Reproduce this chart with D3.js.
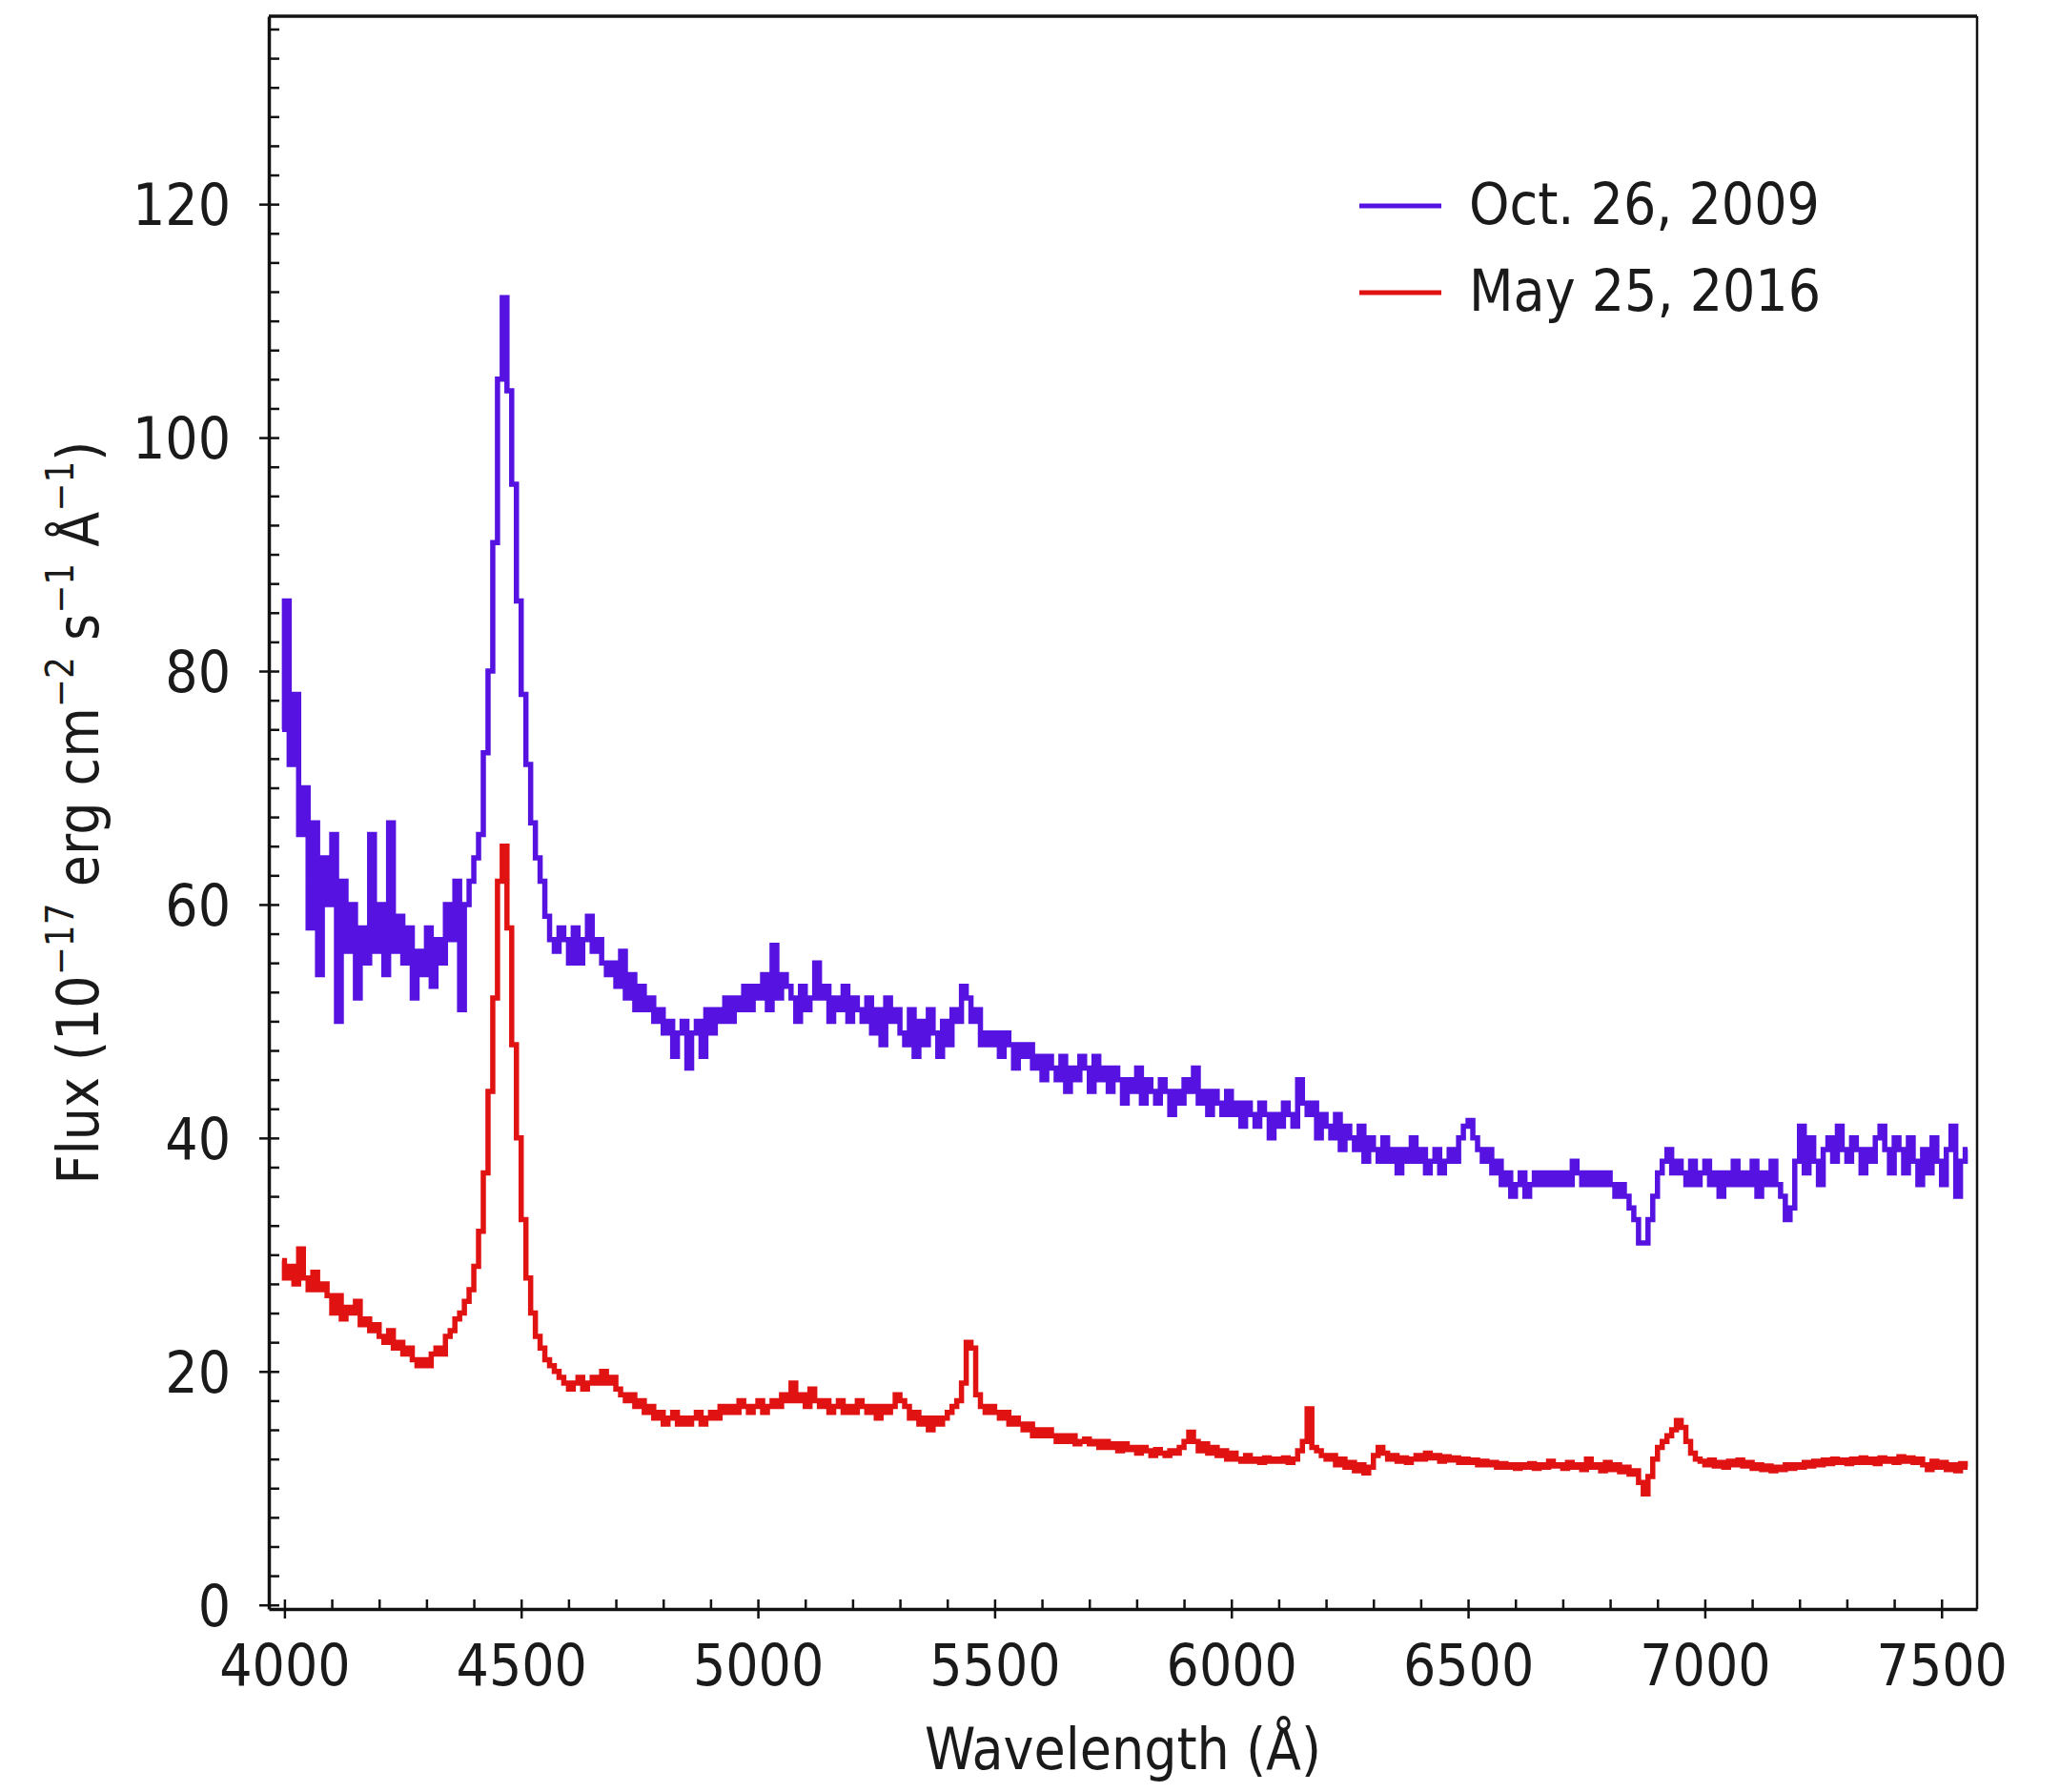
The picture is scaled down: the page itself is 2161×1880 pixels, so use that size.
<!DOCTYPE html>
<html>
<head>
<meta charset="utf-8">
<script src="https://cdn.jsdelivr.net/npm/d3@7"></script>
<style>
  html, body { margin: 0; padding: 0; background: #fff; }
  svg text { font-family: "DejaVu Sans Condensed", "DejaVu Sans", sans-serif; font-stretch: condensed; fill: #1a1a1a; }
</style>
</head>
<body>
<svg id="chart" width="2161" height="1880"></svg>
<script>
// ---------------- data ----------------
const seriesNames = ["Oct. 26, 2009", "May 25, 2016"];
const seriesColors = ["#5512e0", "#e01212"];

// wavelength grid: first sample and sample spacing (Å)
const waveStart = 3995;
const waveStep = 10;

// Flux, Oct. 26, 2009 (10^-17 erg cm^-2 s^-1 Å^-1), one value per 10 Å from 3995 Å
const fluxOct2009 = [
  75, 86, 72, 78, 66, 70, 58, 67, 54, 64,
  60, 66, 50, 62, 56, 60, 52, 58, 55, 66,
  56, 60, 54, 67, 56, 59, 55, 58, 52, 56,
  54, 58, 53, 57, 55, 60, 57, 62, 51, 60,
  62, 64, 66, 73, 80, 91, 105, 112, 104, 96,
  86, 78, 72, 67, 64, 62, 59, 57, 56, 58,
  57, 55, 58, 55, 57, 59, 56, 57, 55, 54,
  55, 53, 56, 52, 54, 51, 53, 51, 52, 50,
  51, 49, 50, 47, 49, 50, 46, 49, 50, 47,
  51, 49, 51, 50, 52, 50, 52, 51, 53, 51,
  53, 52, 54, 51, 56.5, 52, 54, 53, 52, 50,
  53, 51, 52, 55, 52, 53, 50, 52, 51, 53,
  50, 52, 51, 50, 52, 49, 51, 48, 52, 50,
  51, 49, 48, 51, 47, 50, 48, 51, 49, 47,
  50, 48, 51, 50, 53, 52, 50, 51, 48, 49,
  48, 49, 47, 49, 48, 46, 48, 47, 48, 46,
  47, 45, 47, 46, 45, 47, 44, 46, 45, 47,
  46, 44, 47, 45, 46, 44, 46, 45, 43, 45,
  44, 46, 43, 45, 44, 43, 45, 44, 42, 44,
  43, 45, 44, 46, 43, 44, 42, 44, 43, 42,
  44, 42, 43, 41, 43, 42, 41, 43, 42, 40,
  42, 41, 43, 42, 41, 45, 43, 42, 43, 40,
  42, 41, 40, 42, 39, 41, 40, 39, 41, 38,
  40, 39, 38, 40, 38, 39, 37, 39, 38, 40,
  38, 39, 37, 38, 39, 37, 38, 39, 38, 40,
  41, 41.5, 40, 39, 38, 39, 37, 38, 36, 37,
  35, 36, 37, 35, 36, 37, 36, 37, 36, 37,
  36, 37, 36, 38, 37, 36, 37, 36, 37, 36,
  37, 36, 35, 36, 35, 34, 33, 31, 31, 33,
  35, 37, 38, 39, 37, 38, 37, 36, 38, 36,
  37, 38, 36, 37, 35, 37, 36, 38, 36, 37,
  36, 38, 35, 37, 36, 38, 36, 35, 33, 34,
  38, 41, 37, 40, 38, 36, 39, 40, 38, 41,
  39, 38, 40, 39, 37, 39, 38, 40, 41, 39,
  37, 40, 39, 37, 40, 38, 36, 39, 37, 40,
  38, 36, 39, 41, 35, 38, 39
];

// Flux, May 25, 2016, one value per 10 Å from 3995 Å
const fluxMay2016 = [
  29.5, 28, 29, 27.5, 30.5, 28, 27, 28.5, 27, 27.5,
  26.5, 25, 26.5, 24.5, 25.5, 25, 26, 24, 24.5, 23.5,
  24, 23, 22.5, 23.5, 22, 22.5, 21.5, 22, 21, 20.5,
  21, 20.5, 21.5, 22, 21.5, 23, 23.5, 24.5, 25, 26,
  27, 29, 32, 37, 44, 52, 62, 65, 58, 48,
  40, 33, 28, 25, 23, 22, 21, 20.5, 20, 19.5,
  19, 18.5, 19, 19.5, 18.5, 19, 19.5, 19, 20, 19,
  19.5, 18.5, 18, 17.5, 18, 17, 17.5, 16.5, 17, 16,
  16.5, 15.5, 16, 16.5, 15.5, 16, 15.5, 16, 16.5, 15.5,
  16, 16.5, 16, 17, 16.5, 17, 16.5, 17.5, 17, 16.5,
  17, 17.5, 16.5, 17, 17.5, 17, 18, 17.5, 19, 17.5,
  18, 17, 18.5, 17.5, 17, 17.5, 16.5, 17, 17.5, 16.5,
  17, 16.5, 17.5, 17, 16.5, 17, 16, 17, 16.5, 17,
  18, 17.5, 17, 16, 16.5, 15.5, 16, 15, 16, 15.5,
  16, 16.5, 17, 17.5, 19, 22.5, 22, 18, 17, 16.5,
  17, 16.5, 16, 16.5, 15.5, 16, 15.5, 15, 15.5, 14.5,
  15, 14.5, 15, 14.5, 14, 14.5, 14, 14.5, 13.8, 14,
  14.2, 13.8, 14, 13.5, 14, 13.5, 13.8, 13.2, 13.8, 13.3,
  13.5, 13, 13.5, 13.2, 12.8, 13.3, 13, 12.8, 13.2, 13,
  13.5, 14, 14.8, 14, 13.2, 13.8, 13, 13.5, 12.8, 13.2,
  12.5, 13, 12.5, 12.3, 12.8, 12.3, 12.5, 12.2, 12.6, 12.3,
  12.5, 12.3, 12.6, 12.2, 12.5, 13.2, 14, 16.8, 13.5, 13.2,
  12.8, 12.5, 12.8, 12, 12.5, 11.8, 12.2, 11.5, 12, 11.3,
  11.8, 12.8, 13.5, 13, 12.5, 12.8, 12.3, 12.6, 12.2, 12.5,
  12.8, 12.5, 13, 12.6, 12.8, 12.3, 12.7, 12.4, 12.6, 12.2,
  12.5, 12.2, 12.4, 12, 12.3, 12, 12.2, 11.8, 12.1, 11.8,
  12, 11.7, 12, 11.8, 12.1, 11.7, 12, 11.8, 12.3, 11.9,
  12, 11.7, 12.2, 11.8, 12, 11.6, 12.5, 11.8, 12, 11.5,
  12.2, 11.6, 12, 11.4, 11.8, 11.2, 11.5, 10.5, 9.5, 11,
  12.5, 13.5, 14, 14.5, 15, 15.8, 15.2, 14, 13, 12.5,
  12.3, 12, 12.4, 11.9, 12.2, 11.8, 12.3, 12, 12.4, 11.9,
  12.2, 11.7, 12, 11.6, 11.9, 11.5, 11.8, 11.6, 12, 11.7,
  12, 11.8, 12.2, 11.9, 12.3, 12, 12.4, 12.1, 12.5, 12.2,
  12.4, 12.1, 12.5, 12.2, 12.6, 12.2, 12.5, 12.1, 12.6, 12.3,
  12.5, 12.2, 12.7, 12.3, 12.6, 12.2, 12.5, 12, 11.6, 12.3,
  11.8, 12.2, 11.6, 12, 11.5, 12.1, 11.8
];

const xMajorTicks = [4000, 4500, 5000, 5500, 6000, 6500, 7000, 7500];
const yMajorTicks = [0, 20, 40, 60, 80, 100, 120];
const xMinorStep = 100;
const yMinorStep = 2.5;

// ---------------- layout ----------------
const svg = d3.select("#chart");
const L = 282, R = 2074, T = 17, B = 1688;
const x = d3.scaleLinear().domain([3967, 7575]).range([L, R]);
const y = d3.scaleLinear().domain([-0.35, 136.1]).range([B, T]);

const xMinorTicks = d3.range(4000, 7575, xMinorStep);
const yMinorTicks = d3.range(0, 136, yMinorStep);

const fontSize = 60;

// plot lines (clipped)
svg.append("defs").append("clipPath").attr("id", "clip")
  .append("rect").attr("x", L).attr("y", T).attr("width", R - L).attr("height", B - T);

const line = d3.line()
  .x(d => x(d[0]))
  .y(d => y(d[1]))
  .curve(d3.curveStep);

const toPairs = arr => arr.map((v, i) => [waveStart + i * waveStep, v]);
const series = [fluxOct2009, fluxMay2016];

const gLines = svg.append("g").attr("clip-path", "url(#clip)");
series.forEach((s, i) => {
  gLines.append("path")
    .datum(toPairs(s))
    .attr("fill", "none")
    .attr("stroke", seriesColors[i])
    .attr("stroke-width", 5.5)
    .attr("stroke-linejoin", "miter")
    .attr("d", line);
});

// frame
svg.append("line").attr("x1", L).attr("x2", R).attr("y1", T).attr("y2", T)
  .attr("stroke", "#111").attr("stroke-width", 3.5);
svg.append("line").attr("x1", R).attr("x2", R).attr("y1", T).attr("y2", B)
  .attr("stroke", "#111").attr("stroke-width", 2.5);

// x axis: inward ticks (major + minor)
const xIn = svg.append("g").attr("transform", `translate(0,${B})`)
  .call(d3.axisBottom(x).tickValues(xMinorTicks).tickSizeInner(-10).tickSizeOuter(0).tickFormat(""));
xIn.select(".domain").remove();
xIn.selectAll("line").attr("stroke", "#111").attr("stroke-width", 2.5);

// x axis: outward major ticks and labels
const xOut = svg.append("g").attr("transform", `translate(0,${B})`)
  .call(d3.axisBottom(x).tickValues(xMajorTicks).tickSizeInner(10).tickSizeOuter(0).tickPadding(6).tickFormat(d3.format("d")));
xOut.select(".domain").attr("stroke", "#111").attr("stroke-width", 3.5);
xOut.selectAll("line").attr("stroke", "#111").attr("stroke-width", 2.5);
xOut.selectAll("text").attr("font-size", fontSize).attr("font-family", null)
  .attr("fill", "#1a1a1a").attr("dy", null).attr("y", 80);

// y axis: inward ticks
const yIn = svg.append("g").attr("transform", `translate(${L},0)`)
  .call(d3.axisLeft(y).tickValues(yMinorTicks).tickSizeInner(-11).tickSizeOuter(0).tickFormat(""));
yIn.select(".domain").remove();
yIn.selectAll("line").attr("stroke", "#111").attr("stroke-width", 2.5);

// y axis: outward major ticks and labels
const yOut = svg.append("g").attr("transform", `translate(${L},0)`)
  .call(d3.axisLeft(y).tickValues(yMajorTicks).tickSizeInner(10).tickSizeOuter(0).tickPadding(30).tickFormat(d3.format("d")));
yOut.select(".domain").attr("stroke", "#111").attr("stroke-width", 3.5);
yOut.selectAll("line").attr("stroke", "#111").attr("stroke-width", 2.5);
yOut.selectAll("text").attr("font-size", fontSize).attr("font-family", null)
  .attr("fill", "#1a1a1a").attr("dy", "0.36em");

// x axis title
const xt = svg.append("text")
  .attr("x", (L + R) / 2).attr("y", 1856)
  .attr("text-anchor", "middle").attr("font-size", fontSize);
xt.text("Wavelength (Å)");

// y axis title with superscripts
const yt = svg.append("text")
  .attr("transform", `translate(103,${(T + B) / 2}) rotate(-90)`)
  .attr("text-anchor", "middle").attr("font-size", fontSize);
const supSize = 40;
const parts = [
  ["Flux (10", false], ["−17", true], [" erg cm", false], ["−2", true],
  [" s", false], ["−1", true], [" Å", false], ["−1", true], [")", false]
];
let prevSup = false;
parts.forEach(([t, sup]) => {
  const ts = yt.append("tspan").text(t);
  if (sup) { ts.attr("font-size", supSize).attr("dy", -26); }
  else if (prevSup) { ts.attr("dy", 26); }
  prevSup = sup;
});

// legend
const legend = svg.append("g");
const legendY = [216, 307];
seriesNames.forEach((name, i) => {
  legend.append("line")
    .attr("x1", 1426).attr("x2", 1512)
    .attr("y1", legendY[i]).attr("y2", legendY[i])
    .attr("stroke", seriesColors[i]).attr("stroke-width", 5);
  legend.append("text")
    .attr("x", 1541).attr("y", legendY[i] + 19)
    .attr("font-size", fontSize)
    .text(name);
});
</script>
</body>
</html>
